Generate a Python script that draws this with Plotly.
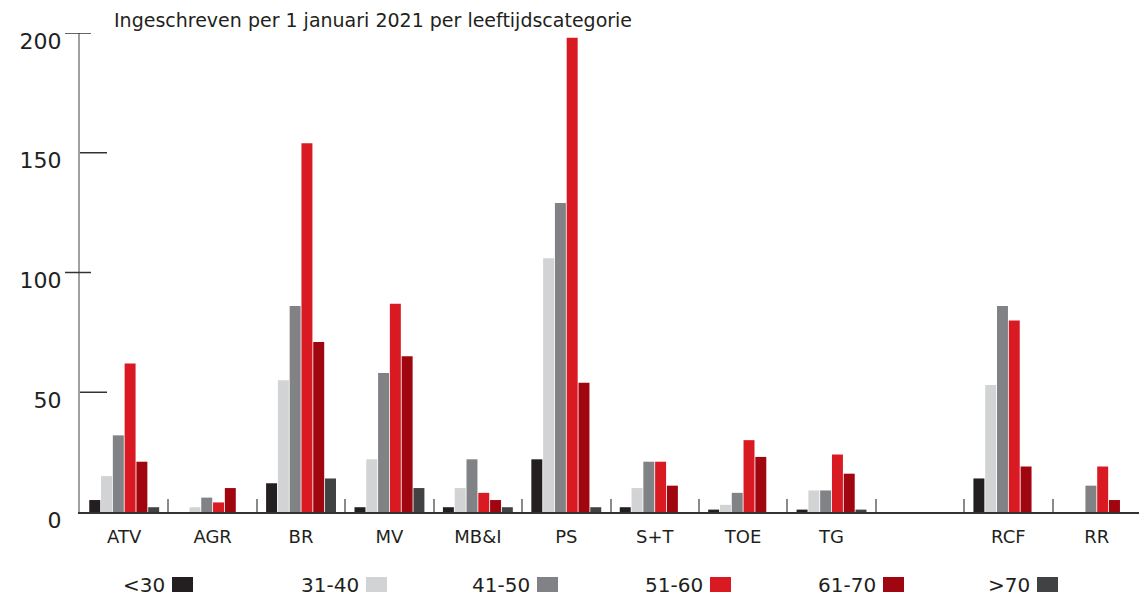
import plotly.graph_objects as go

# ---------------- data ----------------
categories = ["ATV", "AGR", "BR", "MV", "MB&I", "PS", "S+T", "TOE", "TG", " ", "RCF", "RR"]
series_names = ["<30", "31-40", "41-50", "51-60", "61-70", ">70"]
v_lt30 = [5, 0, 12, 2, 2, 22, 2, 1, 1, 0, 14, 0]
v_31_40 = [15, 2, 55, 22, 10, 106, 10, 3, 9, 0, 53, 0]
v_41_50 = [32, 6, 86, 58, 22, 129, 21, 8, 9, 0, 86, 11]
v_51_60 = [62, 4, 154, 87, 8, 198, 21, 30, 24, 0, 80, 19]
v_61_70 = [21, 10, 71, 65, 5, 54, 11, 23, 16, 0, 19, 5]
v_gt70 = [2, 0, 14, 10, 2, 2, 0, 0, 1, 0, 0, 0]
y_ticks = [0, 50, 100, 150, 200]
y_tick_labels = ["0", "50", "100", "150", "200"]
title_text = "Ingeschreven per 1 januari 2021 per leeftijdscategorie"

# ---------------- styles ----------------
colors = ["#231f20", "#d1d3d4", "#808285", "#da1a22", "#a00610", "#414244"]
series_values = [v_lt30, v_31_40, v_41_50, v_51_60, v_61_70, v_gt70]
FONT = "DejaVu Sans"
TXT = "#231f20"

fig = go.Figure()
for name, vals, col in zip(series_names, series_values, colors):
    fig.add_trace(go.Bar(
        x=categories, y=vals, name=name,
        marker=dict(color=col, line=dict(width=0)),
        showlegend=False,
    ))

# page body has an 8px margin, so the figure is sized to the visible area
W, H = 1139, 590
ml, mr, mt, mb = 72, 6, 25, 86
pw = W - ml - mr
ph = H - mt - mb

fig.update_layout(
    width=W, height=H,
    margin=dict(l=ml, r=mr, t=mt, b=mb, autoexpand=False),
    plot_bgcolor="white", paper_bgcolor="white",
    barmode="group", bargap=0.2, bargroupgap=0.07,
    font=dict(family=FONT, color=TXT, size=18),
)
fig.update_xaxes(
    type="category", categoryorder="array", categoryarray=categories,
    showline=True, linecolor="#333333", linewidth=1.5,
    ticks="inside", tickson="boundaries", ticklen=13, tickwidth=2, tickcolor="#8a8a8a",
    showgrid=False, zeroline=False, automargin=False,
    tickfont=dict(family=FONT, size=18, color=TXT),
    ticklabelstandoff=8,
)
fig.update_yaxes(
    range=[0, 200], tickvals=y_ticks, ticktext=y_tick_labels,
    showline=True, linecolor="#a0a0a0", linewidth=2,
    ticks="", showgrid=False, zeroline=False, automargin=False,
    tickfont=dict(family=FONT, size=22, color=TXT),
    ticklabelstandoff=12, ticklabelshift=8,
)

# y-axis tick marks: alternate crossing / inside
shapes = []
for v in y_ticks:
    if v == 0:
        continue
    if (v // 50) % 2 == 0:
        x0, x1 = -15, 11
    else:
        x0, x1 = 0, 27
    shapes.append(dict(type="line", xref="paper", yref="y", xsizemode="pixel", xanchor=0,
                       x0=x0, x1=x1, y0=v, y1=v, line=dict(color="#333333", width=1.5)))

# custom legend: label then swatch (offsets in px from plot-area left edge)
swatch_offsets = [92, 286, 457, 630, 803, 957]
for name, col, sx in zip(series_names, colors, swatch_offsets):
    xp = sx / pw
    shapes.append(dict(type="rect", xref="paper", yref="paper",
                       xsizemode="pixel", ysizemode="pixel", xanchor=xp, yanchor=0,
                       x0=0, x1=21, y0=-65, y1=-80,
                       fillcolor=col, line=dict(width=0)))
    fig.add_annotation(text=name, xref="paper", yref="paper", x=xp, y=-73 / ph,
                       xanchor="right", yanchor="middle", xshift=-5, showarrow=False,
                       font=dict(family=FONT, size=20, color=TXT))

fig.update_layout(shapes=shapes)

fig.add_annotation(text=title_text, xref="paper", yref="paper",
                   x=35 / pw, y=1 + 13 / ph, xanchor="left", yanchor="middle",
                   xshift=-3, showarrow=False, font=dict(family=FONT, size=19, color=TXT))

fig.write_html("out.html")
